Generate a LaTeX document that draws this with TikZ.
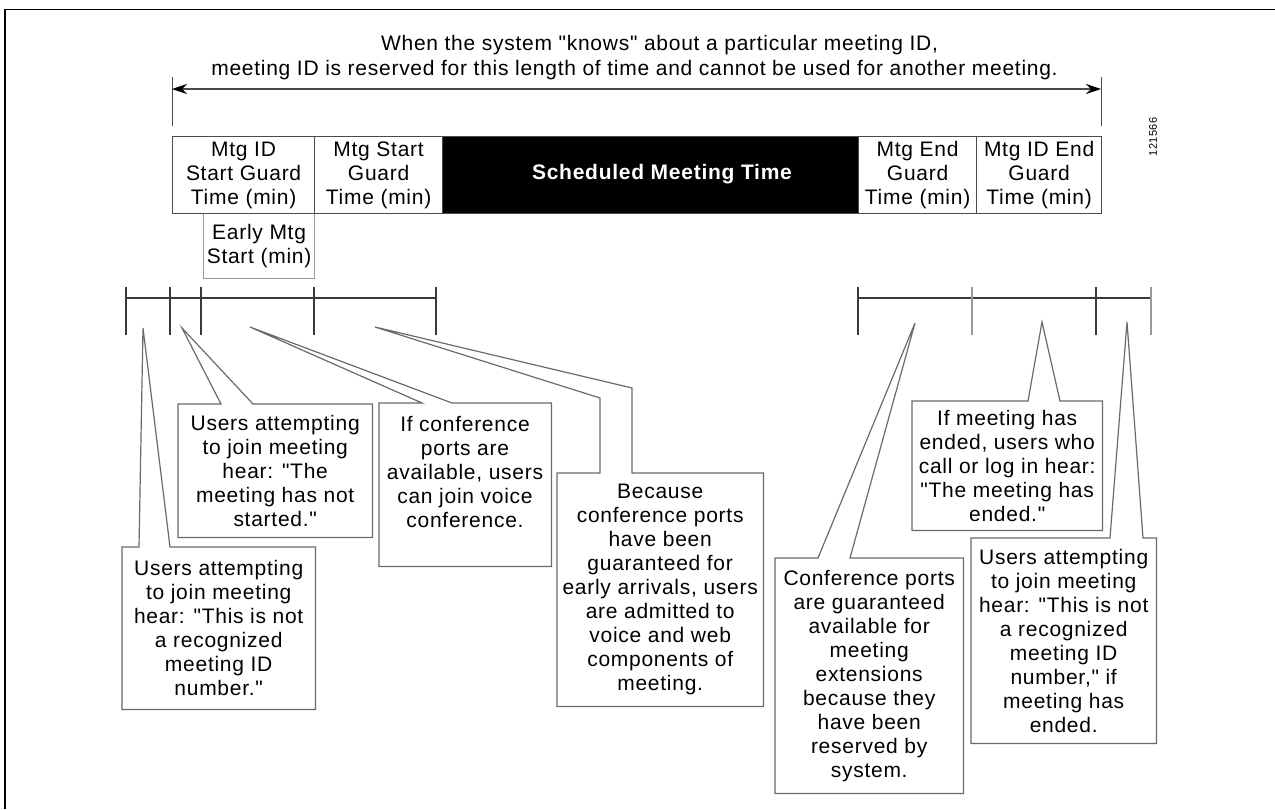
\documentclass[tikz,border=0pt]{standalone}
\usepackage{fontspec}
\setmainfont{Liberation Sans}[LetterSpace=3.5]
\newfontfamily\lab{Liberation Sans}[LetterSpace=3.5]
\usetikzlibrary{arrows.meta,calc}
\definecolor{boxline}{HTML}{4A4A4A}
\definecolor{callline}{HTML}{6A6A6A}
\definecolor{lightline}{HTML}{9A9A9A}
\definecolor{tickdark}{HTML}{3A3A3A}
\tikzset{
  txt/.style={font=\lab\fontsize{21}{24}\selectfont, align=center, inner sep=0pt, text=black},
  timebox/.style={txt, draw=boxline, line width=1.2pt, anchor=north west, minimum height=77pt},
  callbox/.style={txt, anchor=north west},
  callout/.style={draw=callline, line width=1.2pt, line join=miter},
  tickline/.style={draw=tickdark, line width=1.3pt},
  ticklight/.style={draw=lightline, line width=1.3pt},
}
\begin{document}
\begin{tikzpicture}[x=1pt,y=-1pt]
\useasboundingbox (0,0) rectangle (1275,809);
% frame
\draw[line width=1.6pt, black] (5,809) -- (5,9.5) -- (1275,9.5);

% title
\node[txt, anchor=base] (title1) at (659.5,50) {When the system "knows" about a particular meeting ID,};
\node[txt, anchor=base] (title2) at (634.5,75) {meeting ID is reserved for this length of time and cannot be used for another meeting.};

% extent arrow
\coordinate (e1t) at (172,77); \coordinate (e1b) at (172,126);
\coordinate (e2t) at (1101,77); \coordinate (e2b) at (1101,126);
\coordinate (al) at (172,89); \coordinate (ar) at (1101,89);
\draw[boxline, line width=1pt] (e1t) -- (e1b);
\draw[boxline, line width=1pt] (e2t) -- (e2b);
\draw[boxline, line width=1.2pt, {Stealth[length=15pt,width=10pt,inset=5pt,color=black]}-{Stealth[length=15pt,width=10pt,inset=5pt,color=black]}] (al) -- (ar);

% time boxes
\node[timebox, draw=lightline, minimum width=111pt, minimum height=65pt] (early) at (203,213) {Early Mtg\\Start (min)};
\node[timebox, minimum width=142pt] (b1) at (172,136) {Mtg ID\\Start Guard\\Time (min)};
\node[timebox, minimum width=128pt] (b2) at (314,136) {Mtg Start\\Guard\\Time (min)};
\node[timebox, minimum width=416pt, fill=black] (b3) at (442,136) {};
\node[txt, text=white, font=\lab\fontsize{21}{24}\selectfont\bfseries] (b3t) at (662,174.5) {Scheduled Meeting Time};
\node[timebox, minimum width=118pt] (b4) at (858,136) {Mtg End\\Guard\\Time (min)};
\node[timebox, minimum width=125pt] (b5) at (976,136) {Mtg ID End\\Guard\\Time (min)};

% figure number
\node[font=\lab\fontsize{11}{12}\selectfont, rotate=90, inner sep=0pt] (fignum) at (1153,137) {121566};

% left timeline
\draw[tickline] (126,298) -- (436,298);
\foreach \x in {126,170,201,314,436} \draw[tickline] (\x,287) -- (\x,335);
% right timeline
\draw[tickline] (858,298) -- (1151,298);
\foreach \x in {858,1096} \draw[tickline] (\x,287) -- (\x,335);
\foreach \x in {972,1151} \draw[ticklight] (\x,287) -- (\x,335);

% pointer tips
\coordinate (t1) at (143,328);
\coordinate (t2) at (182,328);
\coordinate (t3) at (250,327);
\coordinate (t4) at (375,327);
\coordinate (k4a) at (600,398);
\coordinate (k4b) at (632,388);
\coordinate (t5) at (915,323);
\coordinate (t6) at (1042,322);
\coordinate (t7) at (1127,322);

% callout 1
\node[callbox, minimum width=193pt, minimum height=162pt] (c1) at (122,547) {Users attempting\\to join meeting\\hear: "This is not\\a recognized\\meeting ID\\number."};
\draw[callout] (c1.north west) -- ([xshift=17pt]c1.north west) -- (t1) -- ([xshift=48pt]c1.north west) -- (c1.north east) -- (c1.south east) -- (c1.south west) -- cycle;

% callout 2
\node[callbox, minimum width=194pt, minimum height=133pt] (c2) at (178,404) {Users attempting\\to join meeting\\hear: "The\\meeting has not\\started."};
\draw[callout] (c2.north west) -- ([xshift=43pt]c2.north west) -- (t2) -- ([xshift=75pt]c2.north west) -- (c2.north east) -- (c2.south east) -- (c2.south west) -- cycle;

% callout 3
\node[callbox, minimum width=172pt, minimum height=163pt] (c3) at (379,403) {};
\node[txt] (c3t) at (465,472) {If conference\\ports are\\available, users\\can join voice\\conference.};
\draw[callout] (c3.north west) -- ([xshift=43pt]c3.north west) -- (t3) -- ([xshift=73pt]c3.north west) -- (c3.north east) -- (c3.south east) -- (c3.south west) -- cycle;

% callout 4
\node[callbox, minimum width=206pt, minimum height=233pt] (c4) at (557,473) {Because\\conference ports\\have been\\guaranteed for\\early arrivals, users\\are admitted to\\voice and web\\components of\\meeting.};
\draw[callout] (c4.north west) -- ([xshift=43pt]c4.north west) -- (k4a) -- (t4) -- (k4b) -- ([xshift=75pt]c4.north west) -- (c4.north east) -- (c4.south east) -- (c4.south west) -- cycle;

% callout 5
\node[callbox, minimum width=188pt, minimum height=235pt] (c5) at (775,558) {Conference ports\\are guaranteed\\available for\\meeting\\extensions\\because they\\have been\\reserved by\\system.};
\draw[callout] (c5.north west) -- ([xshift=43pt]c5.north west) -- (t5) -- ([xshift=75pt]c5.north west) -- (c5.north east) -- (c5.south east) -- (c5.south west) -- cycle;

% callout 6
\node[callbox, minimum width=190pt, minimum height=129pt] (c6) at (912,401) {If meeting has\\ended, users who\\call or log in hear:\\"The meeting has\\ended."};
\draw[callout] (c6.north west) -- ([xshift=116pt]c6.north west) -- (t6) -- ([xshift=148pt]c6.north west) -- (c6.north east) -- (c6.south east) -- (c6.south west) -- cycle;

% callout 7
\node[callbox, minimum width=185pt, minimum height=205pt] (c7) at (971,538) {Users attempting\\to join meeting\\hear: "This is not\\a recognized\\meeting ID\\number," if\\meeting has\\ended.};
\draw[callout] (c7.north west) -- ([xshift=139pt]c7.north west) -- (t7) -- ([xshift=172pt]c7.north west) -- (c7.north east) -- (c7.south east) -- (c7.south west) -- cycle;
\end{tikzpicture}
\end{document}
